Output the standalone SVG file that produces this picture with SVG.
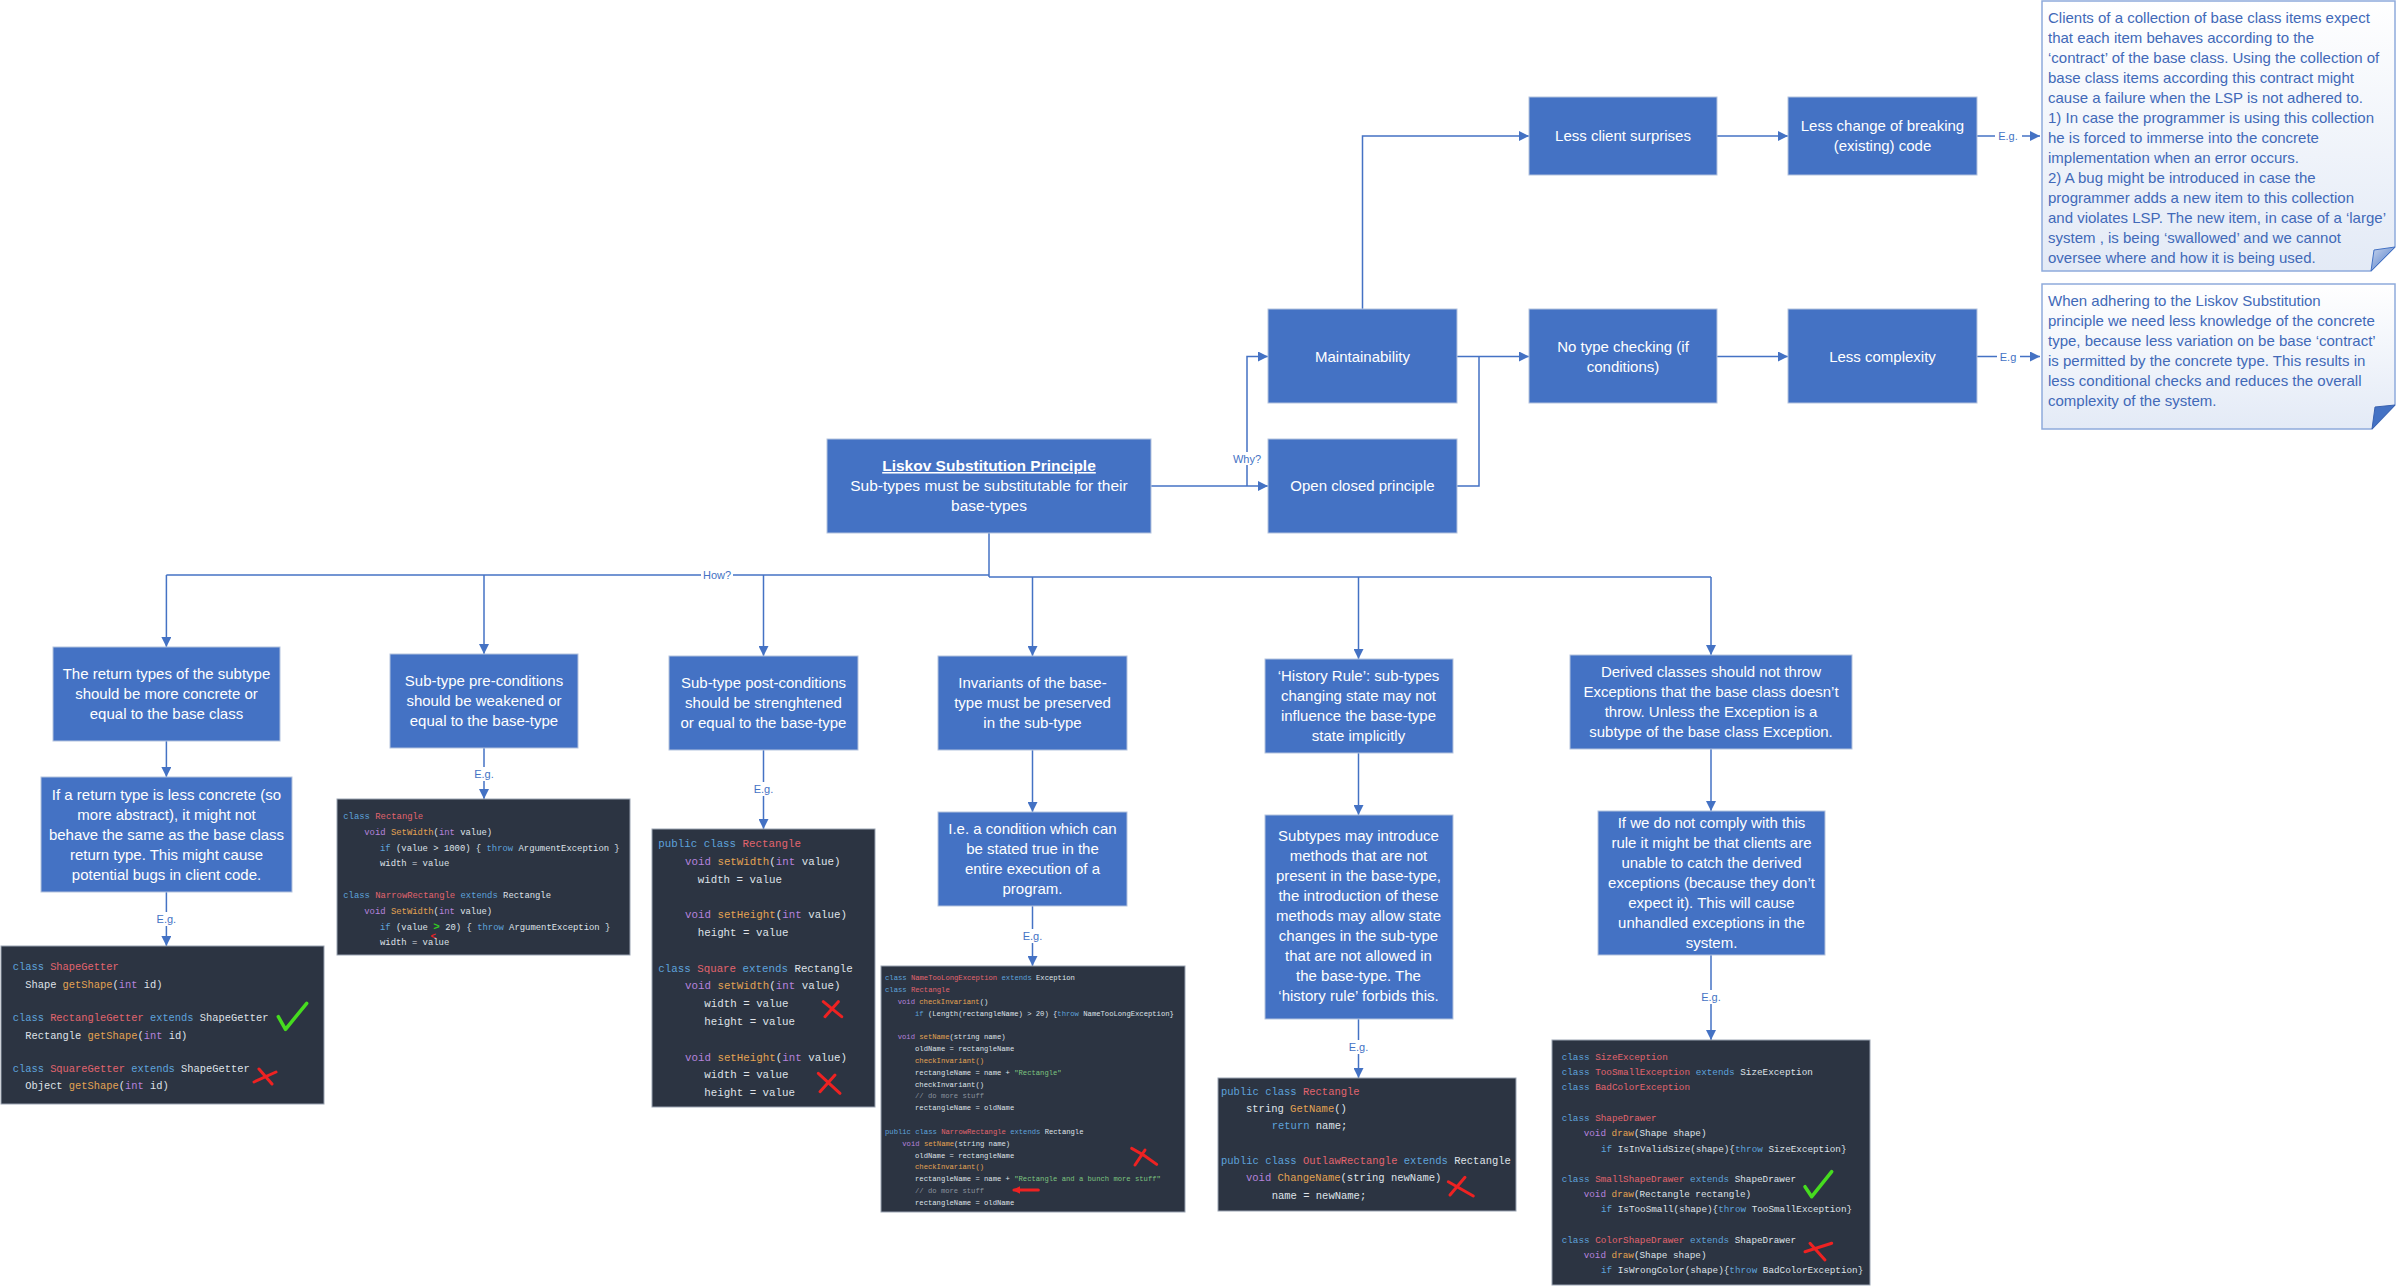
<svg xmlns="http://www.w3.org/2000/svg" width="2400" height="1286" viewBox="0 0 2400 1286">
<style>
.bx{fill:#4472c4;stroke:#b4c3de;stroke-width:1}
.bt{fill:#ffffff;font-family:"Liberation Sans",Arial,sans-serif;font-size:15px;text-anchor:middle}
.ln{fill:none;stroke:#4472c4;stroke-width:1.5}
.ar{fill:none;stroke:#4472c4;stroke-width:1.5;marker-end:url(#ah)}
.lb{fill:#4472c4;font-family:"Liberation Sans",Arial,sans-serif;font-size:11px;text-anchor:middle}
.lbg{fill:#ffffff}
.note{fill:url(#ng);stroke:#8eaadb;stroke-width:1.5}
.nt{fill:#4169b8;font-family:"Liberation Sans",Arial,sans-serif;font-size:15px}
.cb{fill:#2c3442;stroke:#9aa3b2;stroke-width:1}
.code{fill:#dfe2e8;font-family:"Liberation Mono","DejaVu Sans Mono",monospace}
.k{fill:#5ea3dc}
.t{fill:#b683dd}
.c{fill:#e2646e}
.f{fill:#e3a352}
.s{fill:#7cc47f}
.m{fill:#8b939e}
.ok{fill:none;stroke:#46dc1f;stroke-width:3.5;stroke-linecap:round;stroke-linejoin:round}
.no{fill:none;stroke:#ee2222;stroke-width:3;stroke-linecap:round}
</style>
<defs>
<marker id="ah" viewBox="0 0 10 10" refX="10" refY="5" markerWidth="10" markerHeight="10" markerUnits="userSpaceOnUse" orient="auto"><path d="M0,0 L10,5 L0,10 z" fill="#4472c4"/></marker>
<marker id="rah" viewBox="0 0 10 10" refX="8" refY="5" markerWidth="8" markerHeight="8" markerUnits="userSpaceOnUse" orient="auto"><path d="M0,0 L10,5 L0,10 z" fill="#ee2222"/></marker>
<linearGradient id="ng" x1="0" y1="0" x2="0" y2="1"><stop offset="0" stop-color="#ffffff"/><stop offset="1" stop-color="#e3eaf6"/></linearGradient>
<linearGradient id="fg" x1="0" y1="0" x2="1" y2="1"><stop offset="0" stop-color="#c9d6ee"/><stop offset="1" stop-color="#4472c4"/></linearGradient>
</defs>
<rect x="0" y="0" width="2400" height="1286" fill="#ffffff"/>

<g id="connectors">
<path class="ln" d="M989,533 V577"/>
<path class="ln" d="M166.4,575 H989"/>
<path class="ln" d="M989,577 H1711"/>
<path class="ar" d="M166.4,575 V647"/>
<path class="ar" d="M166.4,741 V777"/>
<path class="ar" d="M166.4,892 V946"/>
<path class="ar" d="M484,575 V654"/>
<path class="ar" d="M484,748 V799"/>
<path class="ar" d="M763.5,575 V656"/>
<path class="ar" d="M763.5,750 V829"/>
<path class="ar" d="M1032.5,577 V656"/>
<path class="ar" d="M1032.5,750 V812"/>
<path class="ar" d="M1032.5,906 V966"/>
<path class="ar" d="M1358.5,577 V659"/>
<path class="ar" d="M1358.5,753 V815"/>
<path class="ar" d="M1358.5,1019 V1078"/>
<path class="ar" d="M1711,577 V655"/>
<path class="ar" d="M1711,749 V811"/>
<path class="ar" d="M1711,955 V1040"/>
<path class="ar" d="M1151,486 H1268"/>
<path class="ar" d="M1247,486 V356.5 H1268"/>
<path class="ar" d="M1362.5,309 V136 H1529"/>
<path class="ar" d="M1717,136 H1788"/>
<path class="ar" d="M1977,136 H2040"/>
<path class="ar" d="M1457,356.5 H1529"/>
<path class="ln" d="M1457,486 H1479 V356.5"/>
<path class="ar" d="M1717,356.5 H1788"/>
<path class="ar" d="M1977,356.5 H2040"/>
<rect class="lbg" x="701" y="568" width="32" height="13"/>
<text class="lb" x="717" y="579">How?</text>
<rect class="lbg" x="1231" y="452" width="32" height="13"/>
<text class="lb" x="1247" y="463">Why?</text>
<rect class="lbg" x="153" y="912" width="27" height="14"/>
<text class="lb" x="166.4" y="923">E.g.</text>
<rect class="lbg" x="471" y="767" width="27" height="14"/>
<text class="lb" x="484" y="778">E.g.</text>
<rect class="lbg" x="750" y="782" width="27" height="14"/>
<text class="lb" x="763.5" y="793">E.g.</text>
<rect class="lbg" x="1019" y="929" width="27" height="14"/>
<text class="lb" x="1032.5" y="940">E.g.</text>
<rect class="lbg" x="1345" y="1040" width="27" height="14"/>
<text class="lb" x="1358.5" y="1051">E.g.</text>
<rect class="lbg" x="1698" y="990" width="27" height="14"/>
<text class="lb" x="1711" y="1001">E.g.</text>
<rect class="lbg" x="1995" y="129" width="27" height="14"/>
<text class="lb" x="2008" y="140">E.g.</text>
<rect class="lbg" x="1997" y="350" width="23" height="14"/>
<text class="lb" x="2008" y="360.5">E.g</text>
</g>

<g id="n-lsp">
<rect class="bx" x="827" y="439" width="324" height="94"/>
<text class="bt" x="989" y="471" style="font-size:15.5px;font-weight:bold;text-decoration:underline">Liskov Substitution Principle</text>
<text class="bt" x="989" y="491" style="font-size:15.5px">Sub-types must be substitutable for their</text>
<text class="bt" x="989" y="511" style="font-size:15.5px">base-types</text>
</g>
<g id="n-maint">
<rect class="bx" x="1268" y="309" width="189" height="94"/>
<text class="bt" x="1362.5" y="362">Maintainability</text>
</g>
<g id="n-ocp">
<rect class="bx" x="1268" y="439" width="189" height="94"/>
<text class="bt" x="1362.5" y="491.3">Open closed principle</text>
</g>
<g id="n-lcs">
<rect class="bx" x="1529" y="97" width="188" height="78"/>
<text class="bt" x="1623" y="141">Less client surprises</text>
</g>
<g id="n-lcb">
<rect class="bx" x="1788" y="97" width="189" height="78"/>
<text class="bt" x="1882.5" y="131">Less change of breaking</text>
<text class="bt" x="1882.5" y="151">(existing) code</text>
</g>
<g id="n-ntc">
<rect class="bx" x="1529" y="309" width="188" height="94"/>
<text class="bt" x="1623" y="352">No type checking (if</text>
<text class="bt" x="1623" y="372">conditions)</text>
</g>
<g id="n-lcx">
<rect class="bx" x="1788" y="309" width="189" height="94"/>
<text class="bt" x="1882.5" y="362">Less complexity</text>
</g>

<g id="note-1">
<path class="note" d="M2042,1 H2395 V247 L2371,271 H2042 Z"/>
<path d="M2371,271 L2395,247 L2374,250 Z" fill="url(#fg)" stroke="#4472c4" stroke-width="1"/>
<text class="nt" x="2048" y="23">Clients of a collection of base class items expect</text>
<text class="nt" x="2048" y="43">that each item behaves according to the</text>
<text class="nt" x="2048" y="63">‘contract’ of the base class. Using the collection of</text>
<text class="nt" x="2048" y="83">base class items according this contract might</text>
<text class="nt" x="2048" y="103">cause a failure when the LSP is not adhered to.</text>
<text class="nt" x="2048" y="123">1) In case the programmer is using this collection</text>
<text class="nt" x="2048" y="143">he is forced to immerse into the concrete</text>
<text class="nt" x="2048" y="163">implementation when an error occurs.</text>
<text class="nt" x="2048" y="183">2) A bug might be introduced in case the</text>
<text class="nt" x="2048" y="203">programmer adds a new item to this collection</text>
<text class="nt" x="2048" y="223">and violates LSP. The new item, in case of a ‘large’</text>
<text class="nt" x="2048" y="243">system , is being ‘swallowed’ and we cannot</text>
<text class="nt" x="2048" y="263">oversee where and how it is being used.</text>
</g>
<g id="note-2">
<path class="note" d="M2042,284 H2395 V405 L2372,429 H2042 Z"/>
<path d="M2372,429 L2395,405 L2375,407 Z" fill="#4472c4" stroke="#3a62b0" stroke-width="1"/>
<text class="nt" x="2048" y="306">When adhering to the Liskov Substitution</text>
<text class="nt" x="2048" y="326">principle we need less knowledge of the concrete</text>
<text class="nt" x="2048" y="346">type, because less variation on be base ‘contract’</text>
<text class="nt" x="2048" y="366">is permitted by the concrete type. This results in</text>
<text class="nt" x="2048" y="386">less conditional checks and reduces the overall</text>
<text class="nt" x="2048" y="406">complexity of the system.</text>
</g>

<g id="n-ret">
<rect class="bx" x="53" y="647" width="227" height="94"/>
<text class="bt" x="166.5" y="679">The return types of the subtype</text>
<text class="bt" x="166.5" y="699">should be more concrete or</text>
<text class="bt" x="166.5" y="719.3">equal to the base class</text>
</g>
<g id="n-ret2">
<rect class="bx" x="41" y="777" width="251" height="115"/>
<text class="bt" x="166.5" y="800.3">If a return type is less concrete (so</text>
<text class="bt" x="166.5" y="820.3">more abstract), it might not</text>
<text class="bt" x="166.5" y="840.3">behave the same as the base class</text>
<text class="bt" x="166.5" y="860.3">return type. This might cause</text>
<text class="bt" x="166.5" y="880.3">potential bugs in client code.</text>
</g>
<g id="n-pre">
<rect class="bx" x="390" y="654" width="188" height="94"/>
<text class="bt" x="484" y="686.3">Sub-type pre-conditions</text>
<text class="bt" x="484" y="706.3">should be weakened or</text>
<text class="bt" x="484" y="726.3">equal to the base-type</text>
</g>
<g id="n-post">
<rect class="bx" x="669" y="656" width="189" height="94"/>
<text class="bt" x="763.5" y="688">Sub-type post-conditions</text>
<text class="bt" x="763.5" y="708">should be strenghtened</text>
<text class="bt" x="763.5" y="728">or equal to the base-type</text>
</g>
<g id="n-inv">
<rect class="bx" x="938" y="656" width="189" height="94"/>
<text class="bt" x="1032.5" y="688">Invariants of the base-</text>
<text class="bt" x="1032.5" y="708">type must be preserved</text>
<text class="bt" x="1032.5" y="728">in the sub-type</text>
</g>
<g id="n-ie">
<rect class="bx" x="938" y="812" width="189" height="94"/>
<text class="bt" x="1032.5" y="834">I.e. a condition which can</text>
<text class="bt" x="1032.5" y="854">be stated true in the</text>
<text class="bt" x="1032.5" y="874">entire execution of a</text>
<text class="bt" x="1032.5" y="894">program.</text>
</g>
<g id="n-hist">
<rect class="bx" x="1265" y="659" width="188" height="94"/>
<text class="bt" x="1358.5" y="681">‘History Rule’: sub-types</text>
<text class="bt" x="1358.5" y="701">changing state may not</text>
<text class="bt" x="1358.5" y="721">influence the base-type</text>
<text class="bt" x="1358.5" y="741">state implicitly</text>
</g>
<g id="n-sub">
<rect class="bx" x="1265" y="815" width="188" height="204"/>
<text class="bt" x="1358.5" y="841">Subtypes may introduce</text>
<text class="bt" x="1358.5" y="861">methods that are not</text>
<text class="bt" x="1358.5" y="881">present in the base-type,</text>
<text class="bt" x="1358.5" y="901">the introduction of these</text>
<text class="bt" x="1358.5" y="921">methods may allow state</text>
<text class="bt" x="1358.5" y="941">changes in the sub-type</text>
<text class="bt" x="1358.5" y="961">that are not allowed in</text>
<text class="bt" x="1358.5" y="981">the base-type. The</text>
<text class="bt" x="1358.5" y="1001">‘history rule’ forbids this.</text>
</g>
<g id="n-der">
<rect class="bx" x="1570" y="655" width="282" height="94"/>
<text class="bt" x="1711" y="677">Derived classes should not throw</text>
<text class="bt" x="1711" y="697">Exceptions that the base class doesn’t</text>
<text class="bt" x="1711" y="717">throw. Unless the Exception is a</text>
<text class="bt" x="1711" y="737">subtype of the base class Exception.</text>
</g>
<g id="n-ifwe">
<rect class="bx" x="1598" y="811" width="227" height="144"/>
<text class="bt" x="1711.5" y="828">If we do not comply with this</text>
<text class="bt" x="1711.5" y="848">rule it might be that clients are</text>
<text class="bt" x="1711.5" y="868">unable to catch the derived</text>
<text class="bt" x="1711.5" y="888">exceptions (because they don’t</text>
<text class="bt" x="1711.5" y="908">expect it). This will cause</text>
<text class="bt" x="1711.5" y="928">unhandled exceptions in the</text>
<text class="bt" x="1711.5" y="948">system.</text>
</g>

<g id="code-1" class="code" style="font-size:10.4px">
<rect class="cb" x="1" y="946" width="323" height="158"/>
<text x="12.7" y="970.3"><tspan class="k">class</tspan> <tspan class="c">ShapeGetter</tspan></text>
<text x="25.2" y="987.6">Shape <tspan class="f">getShape</tspan>(<tspan class="t">int</tspan> id)</text>
<text x="12.7" y="1020.6"><tspan class="k">class</tspan> <tspan class="c">RectangleGetter</tspan> <tspan class="k">extends</tspan> ShapeGetter</text>
<text x="25.2" y="1038.6">Rectangle <tspan class="f">getShape</tspan>(<tspan class="t">int</tspan> id)</text>
<text x="12.7" y="1072.3"><tspan class="k">class</tspan> <tspan class="c">SquareGetter</tspan> <tspan class="k">extends</tspan> ShapeGetter</text>
<text x="25.2" y="1089.3">Object <tspan class="f">getShape</tspan>(<tspan class="t">int</tspan> id)</text>
<path class="ok" d="M278.3,1016.7 L285.5,1029.3 L306.7,1003.3"/>
<path class="no" d="M254,1082 L276,1072 M259,1069 L272,1084"/>
</g>

<g id="code-2" class="code" style="font-size:8.9px">
<rect class="cb" x="337" y="799" width="293" height="156"/>
<text x="343.3" y="819.1"><tspan class="k">class</tspan> <tspan class="c">Rectangle</tspan></text>
<text x="364.3" y="834.8"><tspan class="t">void</tspan> <tspan class="f">SetWidth</tspan>(<tspan class="t">int</tspan> value)</text>
<text x="380" y="850.8"><tspan class="k">if</tspan> (value &gt; 1000) { <tspan class="k">throw</tspan> ArgumentException }</text>
<text x="380" y="866.4">width = value</text>
<text x="343.3" y="898.1"><tspan class="k">class</tspan> <tspan class="c">NarrowRectangle</tspan> <tspan class="k">extends</tspan> Rectangle</text>
<text x="364.3" y="913.8"><tspan class="t">void</tspan> <tspan class="f">SetWidth</tspan>(<tspan class="t">int</tspan> value)</text>
<text x="380" y="929.8"><tspan class="k">if</tspan> (value <tspan style="fill:#33cc22;font-weight:bold;font-size:11px">&gt;</tspan> 20) { <tspan class="k">throw</tspan> ArgumentException }</text>
<text x="380" y="945.4">width = value</text>
<text x="430.5" y="939" style="fill:#ee2222;font-weight:bold;font-size:9px">&lt;</text>
</g>

<g id="code-3" class="code" style="font-size:10.8px">
<rect class="cb" x="652" y="829" width="223" height="278"/>
<text x="658.3" y="847.1"><tspan class="k">public</tspan> <tspan class="k">class</tspan> <tspan class="c">Rectangle</tspan></text>
<text x="685" y="864.8"><tspan class="t">void</tspan> <tspan class="f">setWidth</tspan>(<tspan class="t">int</tspan> value)</text>
<text x="697.7" y="882.5">width = value</text>
<text x="685" y="918.1"><tspan class="t">void</tspan> <tspan class="f">setHeight</tspan>(<tspan class="t">int</tspan> value)</text>
<text x="697.7" y="935.8">height = value</text>
<text x="658.3" y="971.5"><tspan class="k">class</tspan> <tspan class="c">Square</tspan> <tspan class="k">extends</tspan> Rectangle</text>
<text x="685" y="989.1"><tspan class="t">void</tspan> <tspan class="f">setWidth</tspan>(<tspan class="t">int</tspan> value)</text>
<text x="704.3" y="1006.8">width = value</text>
<text x="704.3" y="1024.5">height = value</text>
<text x="685" y="1060.5"><tspan class="t">void</tspan> <tspan class="f">setHeight</tspan>(<tspan class="t">int</tspan> value)</text>
<text x="704.3" y="1078.1">width = value</text>
<text x="704.3" y="1095.8">height = value</text>
<path class="no" d="M823.3,1001.7 L841.7,1016.7 M825,1016.7 L838.3,1001.7"/>
<path class="no" d="M818.3,1073.3 L840,1093.3 M820,1091.7 L835,1075"/>
</g>

<g id="code-4" class="code" style="font-size:7.2px">
<rect class="cb" x="881" y="966" width="304" height="246"/>
<text x="885" y="980.2"><tspan class="k">class</tspan> <tspan class="c">NameTooLongException</tspan> <tspan class="k">extends</tspan> Exception</text>
<text x="885" y="991.8"><tspan class="k">class</tspan> <tspan class="c">Rectangle</tspan></text>
<text x="897.7" y="1003.8"><tspan class="t">void</tspan> <tspan class="f">checkInvariant</tspan>()</text>
<text x="915" y="1015.8"><tspan class="k">if</tspan> (Length(rectangleName) &gt; 20) {<tspan class="k">throw</tspan> NameTooLongException}</text>
<text x="897.7" y="1039.2"><tspan class="t">void</tspan> <tspan class="f">setName</tspan>(string name)</text>
<text x="915" y="1051.2">oldName = rectangleName</text>
<text x="915" y="1062.8"><tspan class="f">checkInvariant()</tspan></text>
<text x="915" y="1074.5">rectangleName = name + <tspan class="s">"Rectangle"</tspan></text>
<text x="915" y="1086.5">checkInvariant()</text>
<text x="915" y="1098.2"><tspan class="m">// do more stuff</tspan></text>
<text x="915" y="1110.2">rectangleName = oldName</text>
<text x="885" y="1133.5"><tspan class="k">public</tspan> <tspan class="k">class</tspan> <tspan class="c">NarrowRectangle</tspan> <tspan class="k">extends</tspan> Rectangle</text>
<text x="902.3" y="1145.8"><tspan class="t">void</tspan> <tspan class="f">setName</tspan>(string name)</text>
<text x="915" y="1157.5">oldName = rectangleName</text>
<text x="915" y="1169.2"><tspan class="f">checkInvariant()</tspan></text>
<text x="915" y="1180.8">rectangleName = name + <tspan class="s">"Rectangle and a bunch more stuff"</tspan></text>
<text x="915" y="1192.8"><tspan class="m">// do more stuff</tspan></text>
<text x="915" y="1204.5">rectangleName = oldName</text>
<path class="no" d="M1131.7,1148.3 Q1145,1155 1156.7,1164.3 M1135,1165 L1145,1150"/>
<path class="no" d="M1038.3,1190 L1014,1190" stroke-width="2.5" marker-end="url(#rah)"/>
</g>

<g id="code-5" class="code" style="font-size:10.5px">
<rect class="cb" x="1218" y="1078" width="298" height="133"/>
<text x="1221" y="1094.7"><tspan class="k">public</tspan> <tspan class="k">class</tspan> <tspan class="c">Rectangle</tspan></text>
<text x="1246" y="1112">string <tspan class="f">GetName</tspan>()</text>
<text x="1271.7" y="1128.7"><tspan class="k">return</tspan> name;</text>
<text x="1221" y="1163.7"><tspan class="k">public</tspan> <tspan class="k">class</tspan> <tspan class="c">OutlawRectangle</tspan> <tspan class="k">extends</tspan> Rectangle</text>
<text x="1246" y="1181.4"><tspan class="t">void</tspan> <tspan class="f">ChangeName</tspan>(string newName)</text>
<text x="1271.7" y="1198.7">name = newName;</text>
<path class="no" d="M1448.3,1181.7 L1473.3,1196 M1450,1195 L1465,1177.3"/>
</g>

<g id="code-6" class="code" style="font-size:9.3px">
<rect class="cb" x="1552" y="1040" width="318" height="245"/>
<text x="1561.7" y="1060"><tspan class="k">class</tspan> <tspan class="c">SizeException</tspan></text>
<text x="1561.7" y="1075"><tspan class="k">class</tspan> <tspan class="c">TooSmallException</tspan> <tspan class="k">extends</tspan> SizeException</text>
<text x="1561.7" y="1090"><tspan class="k">class</tspan> <tspan class="c">BadColorException</tspan></text>
<text x="1561.7" y="1121"><tspan class="k">class</tspan> <tspan class="c">ShapeDrawer</tspan></text>
<text x="1583.7" y="1136.3"><tspan class="t">void</tspan> <tspan class="f">draw</tspan>(Shape shape)</text>
<text x="1601" y="1151.6"><tspan class="k">if</tspan> IsInValidSize(shape){<tspan class="k">throw</tspan> SizeException}</text>
<text x="1561.7" y="1182.3"><tspan class="k">class</tspan> <tspan class="c">SmallShapeDrawer</tspan> <tspan class="k">extends</tspan> ShapeDrawer</text>
<text x="1583.7" y="1197.3"><tspan class="t">void</tspan> <tspan class="f">draw</tspan>(Rectangle rectangle)</text>
<text x="1601" y="1212.3"><tspan class="k">if</tspan> IsTooSmall(shape){<tspan class="k">throw</tspan> TooSmallException}</text>
<text x="1561.7" y="1243"><tspan class="k">class</tspan> <tspan class="c">ColorShapeDrawer</tspan> <tspan class="k">extends</tspan> ShapeDrawer</text>
<text x="1583.7" y="1258.3"><tspan class="t">void</tspan> <tspan class="f">draw</tspan>(Shape shape)</text>
<text x="1601" y="1273.3"><tspan class="k">if</tspan> IsWrongColor(shape){<tspan class="k">throw</tspan> BadColorException}</text>
<path class="ok" d="M1805,1186.7 L1811.7,1196.7 L1831.7,1171.7"/>
<path class="no" d="M1805,1251.7 L1831.7,1243.3 M1810,1243.3 L1825,1260"/>
</g>
</svg>
